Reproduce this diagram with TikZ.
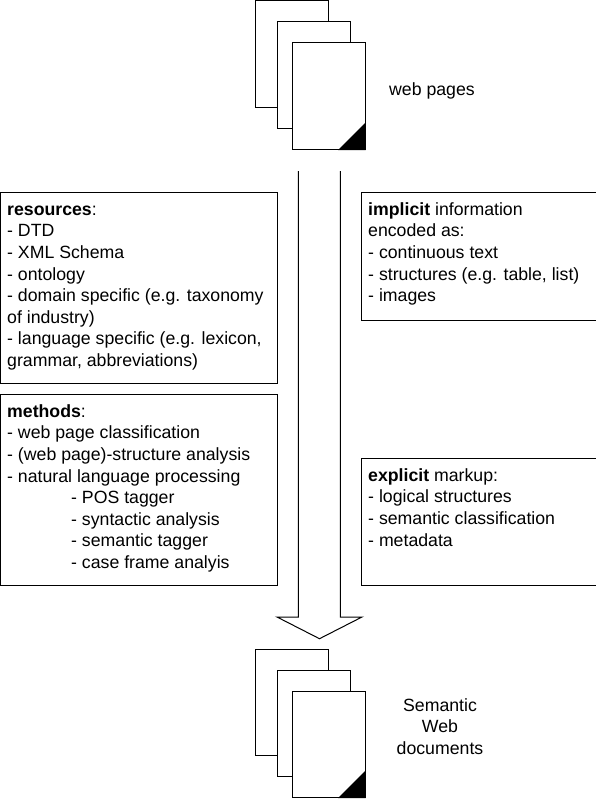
\documentclass[tikz,border=0pt]{standalone}
\usepackage{fontspec}
\setmainfont{Liberation Sans}
\tikzset{
	boxtext/.style={anchor=north west, align=left, inner sep=0pt},
	frame/.style={line width=1pt},
	sheet/.style={draw, fill=white, line width=1pt},
}
\begin{document}
\begin{tikzpicture}[x=1pt, y=-1pt, font=\fontsize{17.7}{21.6}\selectfont, line join=miter]
	\useasboundingbox (0,0) rectangle (596,800);
	\def\w{73.5} \def\h{106.5} \def\ind{\hspace{64pt}} \def\top{\rule{0pt}{13pt}}
	\path
	(298.3,171) coordinate (A)
	(298.3,617) coordinate (B)
	(277,617) coordinate (C)
	(319.5,638.7) coordinate (D)
	(362,617) coordinate (E)
	(340.3,617) coordinate (F)
	(340.3,171) coordinate (G)
	;
	\draw[frame] (A)--(B)--(C)--(D)--(E)--(F)--(G);
	% two stacks of pages
	\foreach \n/\y in {top/0,bot/648}{
		\foreach \k/\x/\t in {a/255/1,b/277/22,c/292/43}{
			\path[sheet] (\x,\y+\t) coordinate (\n\k) rectangle ++(\w,\h);
		}
		\fill (292+\w,\y+150) coordinate (\n d) --++(-27.5,0) --++(27.5,-27.5) --cycle;
	}
	\node (web) at (432,91) {web pages};
	\node[align=center] (sem) at (440,726.5) {Semantic\\Web\\documents};

	\draw[frame] (0.5,192) rectangle (277.5,383.5);
	\node[boxtext] (res) at (7,202) {\top\textbf{resources}:\\
		- DTD\\- XML Schema\\- ontology\\- domain specific (e.g. taxonomy\\of industry)\\- language specific (e.g. lexicon,\\grammar, abbreviations)};
	\draw[frame] (0.5,394) rectangle (277.5,585);
	\node[boxtext] (met) at (7,404) {\top\textbf{methods}:\\
		- web page classification\\- (web page)-structure analysis\\- natural language processing\\
		\ind- POS tagger\\\ind- syntactic analysis\\\ind- semantic tagger\\\ind- case frame analyis};
	\draw[frame] (596,192)--(361,192)--(361,320)--(596,320);
	\node[boxtext] (imp) at (368,202) {\top\textbf{implicit} information\\
		encoded as:\\- continuous text\\- structures (e.g. table, list)\\- images};
	\draw[frame] (596,458)--(361,458)--(361,585)--(596,585);
	\node[boxtext] (exp) at (368,468) {\top\textbf{explicit} markup:\\
		- logical structures\\- semantic classification\\- metadata};
\end{tikzpicture}
\end{document}
